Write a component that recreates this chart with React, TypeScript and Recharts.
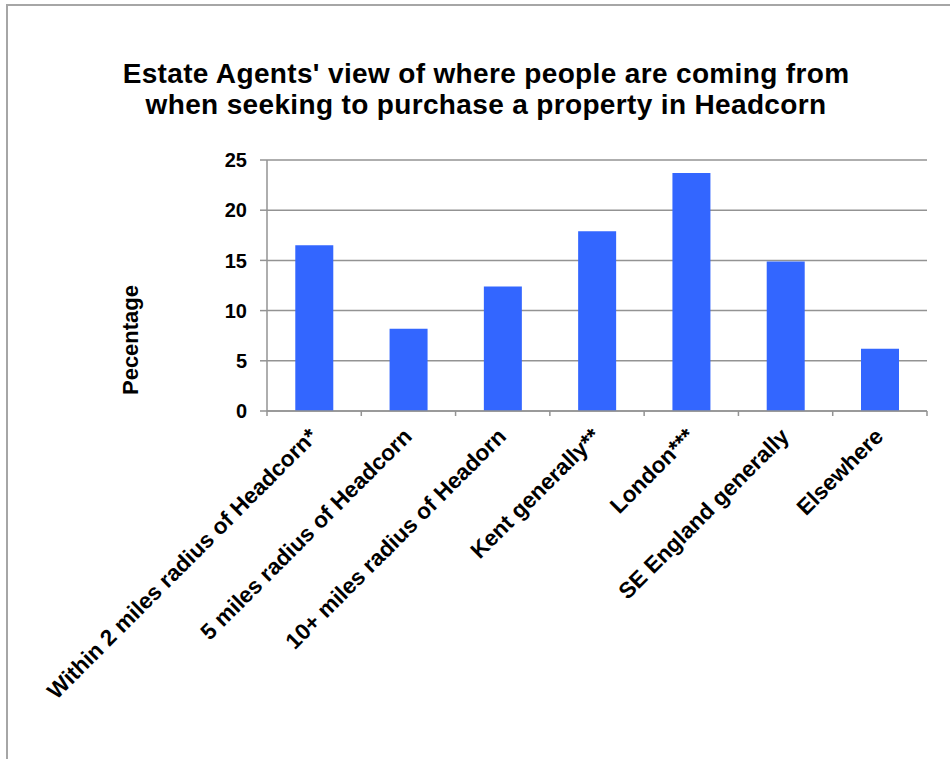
import { BarChart, Bar, XAxis, YAxis, CartesianGrid } from "recharts";

const CATEGORIES = [
  "Within 2 miles radius of Headcorn*",
  "5 miles radius of Headcorn",
  "10+ miles radius of Headorn",
  "Kent generally**",
  "London***",
  "SE England generally",
  "Elsewhere",
];
const PERCENTAGES = [16.5, 8.2, 12.4, 17.9, 23.7, 14.9, 6.2];
const Y_TICKS = [0, 5, 10, 15, 20, 25];

const TITLE_LINES = [
  "Estate Agents' view of where people are coming from",
  "when seeking to purchase a property in Headcorn",
];

const data = CATEGORIES.map((name, i) => ({ name, value: PERCENTAGES[i] }));

const FONT = "'Liberation Sans', Arial, Helvetica, sans-serif";
const GREY = "#939393";
const LABEL_GAP = 22;

// category label + tick marks on the band edges (like Excel)
function CategoryTick(props: any) {
  const { x, y, payload, index, visibleTicksCount } = props;
  const half = payload?.offset ?? 0;
  const axisY = y - LABEL_GAP;
  const last = index === (visibleTicksCount ?? CATEGORIES.length) - 1;
  return (
    <g>
      <line x1={x - half} x2={x - half} y1={axisY} y2={axisY + 5} stroke={GREY} strokeWidth={1.5} />
      {last && (
        <line x1={x + half} x2={x + half} y1={axisY} y2={axisY + 5} stroke={GREY} strokeWidth={1.5} />
      )}
      <text
        x={x}
        y={y}
        dy="0.3em"
        textAnchor="end"
        transform={`rotate(-45, ${x}, ${y})`}
        fontFamily={FONT}
        fontWeight="bold"
        fontSize={22.5}
        fill="#000"
      >
        {payload.value}
      </text>
    </g>
  );
}

function YLabel() {
  return (
    <text
      x={130}
      y={340}
      transform="rotate(-90, 130, 340)"
      textAnchor="middle"
      dominantBaseline="central"
      fontFamily={FONT}
      fontWeight="bold"
      fontSize={22}
      fill="#000"
    >
      Pecentage
    </text>
  );
}

export default function App() {
  return (
    <div
      style={{
        position: "absolute",
        left: 0,
        top: 0,
        width: 950,
        height: 759,
        background: "#fff",
        overflow: "hidden",
      }}
    >
      <div
        style={{
          position: "absolute",
          left: 6,
          top: 4,
          right: -10,
          bottom: -10,
          borderTop: "2px solid #a6a6a6",
          borderLeft: "2px solid #a6a6a6",
        }}
      />
      <div
        style={{
          position: "absolute",
          left: 11,
          top: 58,
          width: 950,
          textAlign: "center",
          fontFamily: FONT,
          fontWeight: "bold",
          fontSize: 28,
          letterSpacing: 0.35,
          lineHeight: "31px",
          color: "#000",
        }}
      >
        {TITLE_LINES.map((t) => (
          <div key={t}>{t}</div>
        ))}
      </div>
      <div style={{ position: "absolute", left: 0, top: 0 }}>
        <BarChart
          width={950}
          height={759}
          data={data}
          margin={{ top: 160, right: 23, bottom: 0, left: 0 }}
          barCategoryGap="30%"
        >
          <CartesianGrid
            vertical={false}
            stroke={GREY}
            strokeWidth={1.5}
          />
          <XAxis
            dataKey="name"
            interval={0}
            height={348}
            stroke={GREY}
            strokeWidth={1.5}
            tickLine={false}
            tickSize={0}
            tickMargin={LABEL_GAP}
            tick={<CategoryTick />}
          />
          <YAxis
            width={267}
            domain={[0, 25]}
            ticks={Y_TICKS}
            tickSize={7}
            tickMargin={13}
            stroke={GREY}
            strokeWidth={1.5}
            tick={{
              fill: "#000",
              fontFamily: FONT,
              fontWeight: "bold",
              fontSize: 20,
            }}
            label={<YLabel />}
          />
          <Bar
            dataKey="value"
            fill="#3366FF"
            isAnimationActive={false}
          />
        </BarChart>
      </div>
    </div>
  );
}
